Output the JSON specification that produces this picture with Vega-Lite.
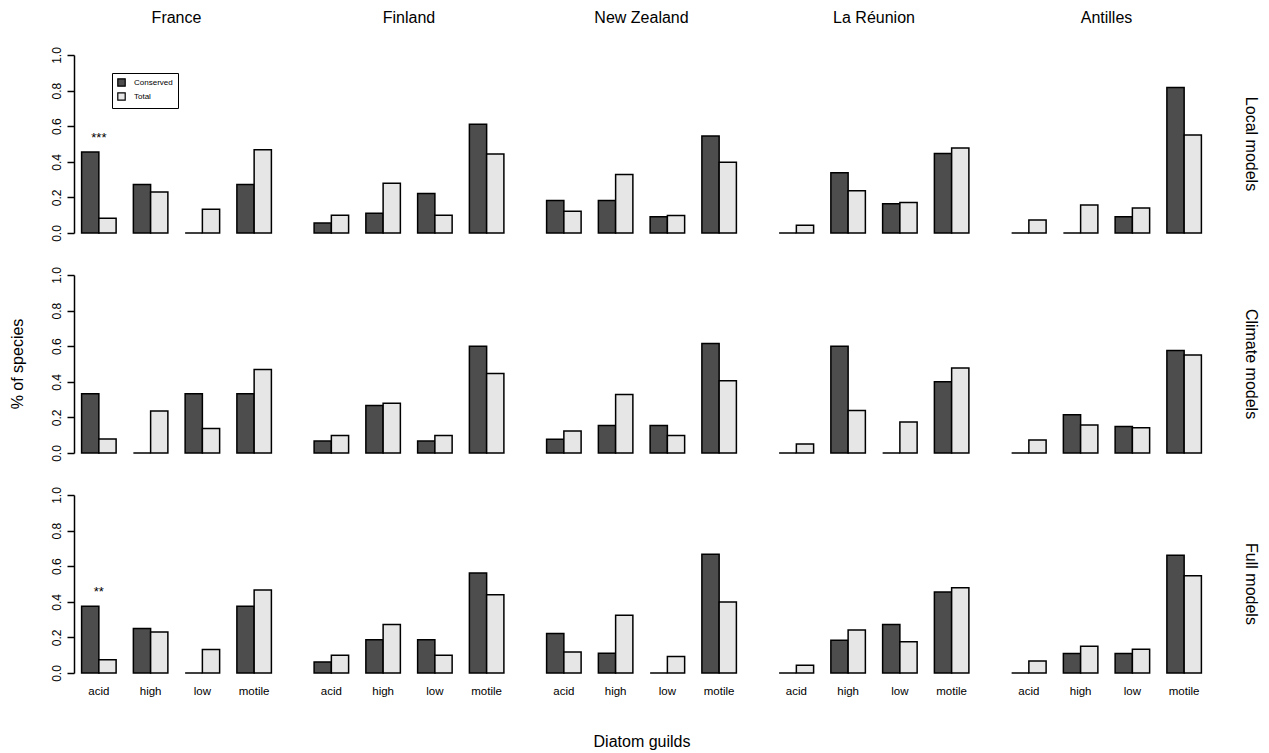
{
  "$schema": "https://vega.github.io/schema/vega-lite/v6.json",
  "background": "white",
  "padding": {"left": 9, "top": 10, "right": 5, "bottom": 5},
  "data": {
    "values": [
      {"model": "Local models", "country": "France", "guild": "acid", "Conserved": 0.455, "Total": 0.083, "sig": "***"},
      {"model": "Local models", "country": "France", "guild": "high", "Conserved": 0.273, "Total": 0.23},
      {"model": "Local models", "country": "France", "guild": "low", "Conserved": 0, "Total": 0.133},
      {"model": "Local models", "country": "France", "guild": "motile", "Conserved": 0.273, "Total": 0.467},
      {"model": "Local models", "country": "Finland", "guild": "acid", "Conserved": 0.056, "Total": 0.1},
      {"model": "Local models", "country": "Finland", "guild": "high", "Conserved": 0.111, "Total": 0.279},
      {"model": "Local models", "country": "Finland", "guild": "low", "Conserved": 0.222, "Total": 0.1},
      {"model": "Local models", "country": "Finland", "guild": "motile", "Conserved": 0.611, "Total": 0.444},
      {"model": "Local models", "country": "New Zealand", "guild": "acid", "Conserved": 0.182, "Total": 0.122},
      {"model": "Local models", "country": "New Zealand", "guild": "high", "Conserved": 0.182, "Total": 0.328},
      {"model": "Local models", "country": "New Zealand", "guild": "low", "Conserved": 0.091, "Total": 0.099},
      {"model": "Local models", "country": "New Zealand", "guild": "motile", "Conserved": 0.545, "Total": 0.397},
      {"model": "Local models", "country": "La Réunion", "guild": "acid", "Conserved": 0, "Total": 0.043},
      {"model": "Local models", "country": "La Réunion", "guild": "high", "Conserved": 0.338, "Total": 0.238},
      {"model": "Local models", "country": "La Réunion", "guild": "low", "Conserved": 0.165, "Total": 0.172},
      {"model": "Local models", "country": "La Réunion", "guild": "motile", "Conserved": 0.446, "Total": 0.478},
      {"model": "Local models", "country": "Antilles", "guild": "acid", "Conserved": 0, "Total": 0.073},
      {"model": "Local models", "country": "Antilles", "guild": "high", "Conserved": 0, "Total": 0.157},
      {"model": "Local models", "country": "Antilles", "guild": "low", "Conserved": 0.091, "Total": 0.14},
      {"model": "Local models", "country": "Antilles", "guild": "motile", "Conserved": 0.818, "Total": 0.551},

      {"model": "Climate models", "country": "France", "guild": "acid", "Conserved": 0.333, "Total": 0.079},
      {"model": "Climate models", "country": "France", "guild": "high", "Conserved": 0, "Total": 0.236},
      {"model": "Climate models", "country": "France", "guild": "low", "Conserved": 0.333, "Total": 0.137},
      {"model": "Climate models", "country": "France", "guild": "motile", "Conserved": 0.333, "Total": 0.469},
      {"model": "Climate models", "country": "Finland", "guild": "acid", "Conserved": 0.067, "Total": 0.099},
      {"model": "Climate models", "country": "Finland", "guild": "high", "Conserved": 0.267, "Total": 0.279},
      {"model": "Climate models", "country": "Finland", "guild": "low", "Conserved": 0.067, "Total": 0.099},
      {"model": "Climate models", "country": "Finland", "guild": "motile", "Conserved": 0.6, "Total": 0.446},
      {"model": "Climate models", "country": "New Zealand", "guild": "acid", "Conserved": 0.077, "Total": 0.124},
      {"model": "Climate models", "country": "New Zealand", "guild": "high", "Conserved": 0.154, "Total": 0.329},
      {"model": "Climate models", "country": "New Zealand", "guild": "low", "Conserved": 0.154, "Total": 0.099},
      {"model": "Climate models", "country": "New Zealand", "guild": "motile", "Conserved": 0.615, "Total": 0.406},
      {"model": "Climate models", "country": "La Réunion", "guild": "acid", "Conserved": 0, "Total": 0.051},
      {"model": "Climate models", "country": "La Réunion", "guild": "high", "Conserved": 0.6, "Total": 0.239},
      {"model": "Climate models", "country": "La Réunion", "guild": "low", "Conserved": 0, "Total": 0.174},
      {"model": "Climate models", "country": "La Réunion", "guild": "motile", "Conserved": 0.4, "Total": 0.478},
      {"model": "Climate models", "country": "Antilles", "guild": "acid", "Conserved": 0, "Total": 0.073},
      {"model": "Climate models", "country": "Antilles", "guild": "high", "Conserved": 0.215, "Total": 0.157},
      {"model": "Climate models", "country": "Antilles", "guild": "low", "Conserved": 0.149, "Total": 0.142},
      {"model": "Climate models", "country": "Antilles", "guild": "motile", "Conserved": 0.576, "Total": 0.551},

      {"model": "Full models", "country": "France", "guild": "acid", "Conserved": 0.375, "Total": 0.075, "sig": "**"},
      {"model": "Full models", "country": "France", "guild": "high", "Conserved": 0.25, "Total": 0.231},
      {"model": "Full models", "country": "France", "guild": "low", "Conserved": 0, "Total": 0.132},
      {"model": "Full models", "country": "France", "guild": "motile", "Conserved": 0.375, "Total": 0.466},
      {"model": "Full models", "country": "Finland", "guild": "acid", "Conserved": 0.0625, "Total": 0.1},
      {"model": "Full models", "country": "Finland", "guild": "high", "Conserved": 0.1875, "Total": 0.273},
      {"model": "Full models", "country": "Finland", "guild": "low", "Conserved": 0.1875, "Total": 0.1},
      {"model": "Full models", "country": "Finland", "guild": "motile", "Conserved": 0.5625, "Total": 0.44},
      {"model": "Full models", "country": "New Zealand", "guild": "acid", "Conserved": 0.222, "Total": 0.118},
      {"model": "Full models", "country": "New Zealand", "guild": "high", "Conserved": 0.111, "Total": 0.324},
      {"model": "Full models", "country": "New Zealand", "guild": "low", "Conserved": 0, "Total": 0.092},
      {"model": "Full models", "country": "New Zealand", "guild": "motile", "Conserved": 0.667, "Total": 0.399},
      {"model": "Full models", "country": "La Réunion", "guild": "acid", "Conserved": 0, "Total": 0.043},
      {"model": "Full models", "country": "La Réunion", "guild": "high", "Conserved": 0.184, "Total": 0.241},
      {"model": "Full models", "country": "La Réunion", "guild": "low", "Conserved": 0.273, "Total": 0.175},
      {"model": "Full models", "country": "La Réunion", "guild": "motile", "Conserved": 0.455, "Total": 0.479},
      {"model": "Full models", "country": "Antilles", "guild": "acid", "Conserved": 0, "Total": 0.068},
      {"model": "Full models", "country": "Antilles", "guild": "high", "Conserved": 0.109, "Total": 0.15},
      {"model": "Full models", "country": "Antilles", "guild": "low", "Conserved": 0.109, "Total": 0.134},
      {"model": "Full models", "country": "Antilles", "guild": "motile", "Conserved": 0.662, "Total": 0.547}
    ]
  },
  "transform": [{"fold": ["Conserved", "Total"], "as": ["type", "value"]}],
  "facet": {
    "row": {
      "field": "model",
      "type": "nominal",
      "sort": ["Local models", "Climate models", "Full models"],
      "title": "% of species",
      "header": {
        "labelOrient": "right",
        "labelAngle": 90,
        "labelFont": "Liberation Sans",
        "labelFontSize": 16,
        "labelColor": "black",
        "labelPadding": 34,
        "titleOrient": "left",
        "titleAngle": -90,
        "titleFont": "Liberation Sans",
        "titleFontSize": 16,
        "titleFontWeight": "normal",
        "titleColor": "black",
        "titlePadding": -2
      }
    },
    "column": {
      "field": "country",
      "type": "nominal",
      "sort": ["France", "Finland", "New Zealand", "La Réunion", "Antilles"],
      "title": "Diatom guilds",
      "header": {
        "labelOrient": "top",
        "labelFont": "Liberation Sans",
        "labelFontSize": 16,
        "labelColor": "black",
        "labelPadding": 29,
        "titleOrient": "bottom",
        "titleFont": "Liberation Sans",
        "titleFontSize": 16,
        "titleFontWeight": "normal",
        "titleColor": "black",
        "titlePadding": 27
      }
    }
  },
  "spacing": {"row": 41, "column": 27.5},
  "spec": {
    "width": 205,
    "height": 178,
    "layer": [
      {
        "mark": {"type": "bar", "stroke": "black", "strokeWidth": 1.5},
        "encoding": {
          "x": {
            "field": "guild",
            "type": "nominal",
            "sort": ["acid", "high", "low", "motile"],
            "scale": {"paddingInner": 0.3333, "paddingOuter": 0.147},
            "axis": {
              "title": null,
              "domain": false,
              "ticks": false,
              "labelAngle": 0,
              "labelFont": "Liberation Sans",
              "labelFontSize": 11.5,
              "labelColor": "black",
              "labelPadding": 11
            }
          },
          "xOffset": {
            "field": "type",
            "type": "nominal",
            "sort": ["Conserved", "Total"],
            "scale": {"paddingInner": 0, "paddingOuter": 0}
          },
          "y": {
            "field": "value",
            "type": "quantitative",
            "scale": {"domain": [0, 1], "nice": false, "zero": true},
            "axis": {
              "title": null,
              "values": [0, 0.2, 0.4, 0.6, 0.8, 1],
              "format": ".1f",
              "grid": false,
              "labelOverlap": false,
              "labelFlush": false,
              "labelBound": false,
              "labelAngle": -90,
              "labelAlign": "center",
              "labelBaseline": "bottom",
              "labelFont": "Liberation Sans",
              "labelFontSize": 12,
              "labelColor": "black",
              "labelPadding": 4,
              "tickSize": 7,
              "tickWidth": 1.5,
              "tickColor": "black",
              "domainColor": "black",
              "domainWidth": 1.5
            }
          },
          "fill": {
            "field": "type",
            "type": "nominal",
            "sort": ["Conserved", "Total"],
            "scale": {"domain": ["Conserved", "Total"], "range": ["#4d4d4d", "#e6e6e6"]},
            "legend": {
              "title": null,
              "orient": "none",
              "legendX": 38,
              "legendY": 18,
              "direction": "vertical",
              "strokeColor": "black",
              "padding": 5,
              "symbolType": "square",
              "symbolSize": 55,
              "symbolStrokeColor": "black",
              "symbolStrokeWidth": 1.2,
              "labelFont": "Liberation Sans",
              "labelFontSize": 8,
              "labelColor": "black",
              "rowPadding": 1,
              "labelOffset": 8
            }
          }
        }
      },
      {
        "transform": [{"filter": "datum.type === 'Conserved' && datum.sig"}],
        "mark": {"type": "text", "baseline": "middle", "align": "center", "dy": -14, "fontSize": 13, "font": "Liberation Sans", "color": "black"},
        "encoding": {
          "x": {
            "field": "guild",
            "type": "nominal",
            "sort": ["acid", "high", "low", "motile"],
            "axis": {
              "title": null,
              "domain": false,
              "ticks": false,
              "labelAngle": 0,
              "labelFont": "Liberation Sans",
              "labelFontSize": 11.5,
              "labelColor": "black",
              "labelPadding": 11
            }
          },
          "y": {
            "field": "value",
            "type": "quantitative",
            "axis": {
              "title": null,
              "values": [0, 0.2, 0.4, 0.6, 0.8, 1],
              "format": ".1f",
              "grid": false,
              "labelOverlap": false,
              "labelFlush": false,
              "labelBound": false,
              "labelAngle": -90,
              "labelAlign": "center",
              "labelBaseline": "bottom",
              "labelFont": "Liberation Sans",
              "labelFontSize": 12,
              "labelColor": "black",
              "labelPadding": 4,
              "tickSize": 7,
              "tickWidth": 1.5,
              "tickColor": "black",
              "domainColor": "black",
              "domainWidth": 1.5
            }
          },
          "text": {"field": "sig"}
        }
      }
    ]
  },
  "config": {
    "view": {"stroke": null},
    "font": "Liberation Sans"
  }
}
